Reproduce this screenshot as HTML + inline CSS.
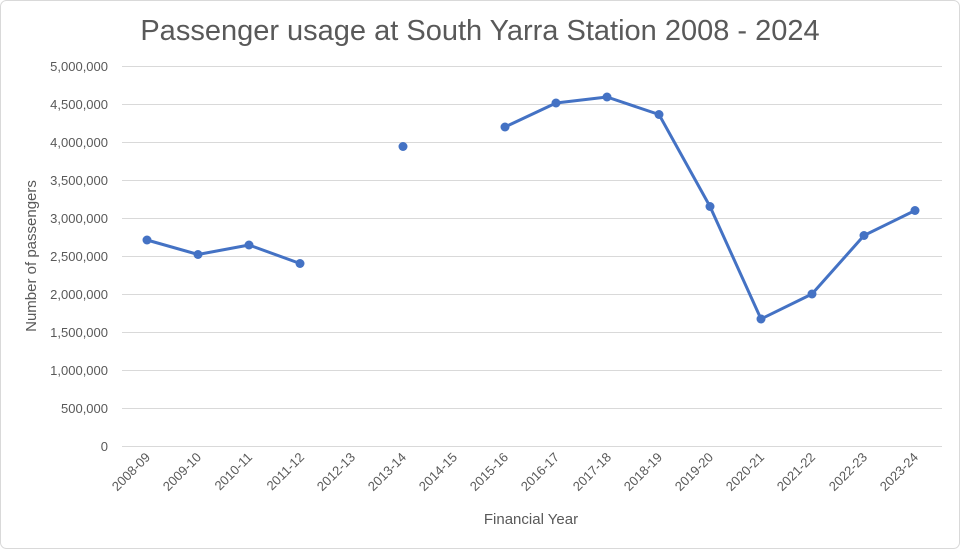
<!DOCTYPE html>
<html><head><meta charset="utf-8"><style>
html,body{margin:0;padding:0;background:#fff;}
svg{display:block;font-family:"Liberation Sans",sans-serif;}
</style></head><body>
<svg width="960" height="549" viewBox="0 0 960 549">
<rect x="0.5" y="0.5" width="959" height="548" rx="6" fill="#fff" stroke="#d9d9d9"/>
<text x="480" y="40" text-anchor="middle" font-size="29" fill="#595959">Passenger usage at South Yarra Station 2008 - 2024</text>
<g stroke="#d9d9d9" stroke-width="1">
<line x1="122" x2="942" y1="66.5" y2="66.5"/><line x1="122" x2="942" y1="104.5" y2="104.5"/>
<line x1="122" x2="942" y1="142.5" y2="142.5"/><line x1="122" x2="942" y1="180.5" y2="180.5"/>
<line x1="122" x2="942" y1="218.5" y2="218.5"/><line x1="122" x2="942" y1="256.5" y2="256.5"/>
<line x1="122" x2="942" y1="294.5" y2="294.5"/><line x1="122" x2="942" y1="332.5" y2="332.5"/>
<line x1="122" x2="942" y1="370.5" y2="370.5"/><line x1="122" x2="942" y1="408.5" y2="408.5"/>
<line x1="122" x2="942" y1="446.5" y2="446.5"/>
</g>
<g font-size="13" fill="#595959" text-anchor="end">
<text x="108" y="71">5,000,000</text><text x="108" y="109">4,500,000</text>
<text x="108" y="147">4,000,000</text><text x="108" y="185">3,500,000</text>
<text x="108" y="223">3,000,000</text><text x="108" y="261">2,500,000</text>
<text x="108" y="299">2,000,000</text><text x="108" y="337">1,500,000</text>
<text x="108" y="375">1,000,000</text><text x="108" y="413">500,000</text>
<text x="108" y="451">0</text>
</g>
<g font-size="13" fill="#595959" text-anchor="end">
<text transform="translate(151,458) rotate(-45)">2008-09</text>
<text transform="translate(202,458) rotate(-45)">2009-10</text>
<text transform="translate(253,458) rotate(-45)">2010-11</text>
<text transform="translate(305,458) rotate(-45)">2011-12</text>
<text transform="translate(356,458) rotate(-45)">2012-13</text>
<text transform="translate(407,458) rotate(-45)">2013-14</text>
<text transform="translate(458,458) rotate(-45)">2014-15</text>
<text transform="translate(509,458) rotate(-45)">2015-16</text>
<text transform="translate(560,458) rotate(-45)">2016-17</text>
<text transform="translate(612,458) rotate(-45)">2017-18</text>
<text transform="translate(663,458) rotate(-45)">2018-19</text>
<text transform="translate(714,458) rotate(-45)">2019-20</text>
<text transform="translate(765,458) rotate(-45)">2020-21</text>
<text transform="translate(816,458) rotate(-45)">2021-22</text>
<text transform="translate(868,458) rotate(-45)">2022-23</text>
<text transform="translate(919,458) rotate(-45)">2023-24</text>
</g>
<text x="531" y="524" text-anchor="middle" font-size="15" fill="#595959">Financial Year</text>
<text transform="translate(36,256) rotate(-90)" text-anchor="middle" font-size="15" fill="#595959">Number of passengers</text>
<g fill="none" stroke="#4472c4" stroke-width="3" stroke-linejoin="round">
<polyline points="147,240 198,254.5 249,245 300,263.5"/>
<polyline points="505,127 556,103 607,97 659,114.5 710,206.5 761,319 812,294 864,235.5 915,210.5"/>
</g>
<g fill="#4472c4">
<circle cx="147" cy="240" r="4.5"/><circle cx="198" cy="254.5" r="4.5"/><circle cx="249" cy="245" r="4.5"/><circle cx="300" cy="263.5" r="4.5"/>
<circle cx="403" cy="146.5" r="4.5"/>
<circle cx="505" cy="127" r="4.5"/><circle cx="556" cy="103" r="4.5"/><circle cx="607" cy="97" r="4.5"/><circle cx="659" cy="114.5" r="4.5"/>
<circle cx="710" cy="206.5" r="4.5"/><circle cx="761" cy="319" r="4.5"/><circle cx="812" cy="294" r="4.5"/><circle cx="864" cy="235.5" r="4.5"/><circle cx="915" cy="210.5" r="4.5"/>
</g>
</svg>
</body></html>
